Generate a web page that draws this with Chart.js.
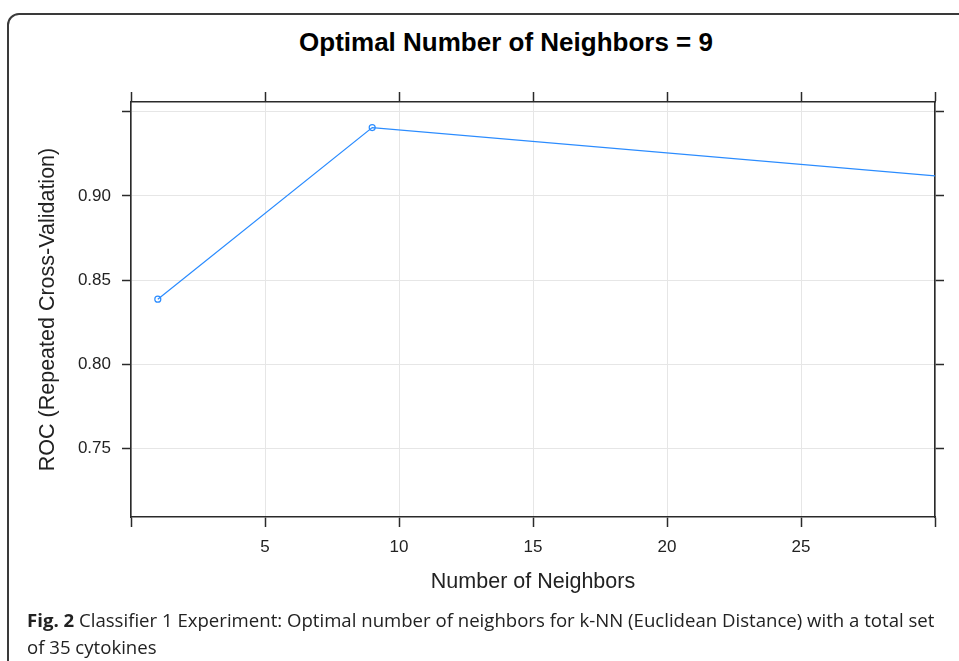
<!DOCTYPE html>
<html lang="en">
<head>
<meta charset="UTF-8">
<title>Optimal Number of Neighbors</title>
<script src="https://cdn.jsdelivr.net/npm/chart.js"></script>
<style>
    html, body { margin: 0; padding: 0; background: #fff; }
    body { width: 959px; height: 661px; position: relative; overflow: hidden; }
    .frame {
        position: absolute; left: 7px; top: 13px; width: 1000px; height: 700px;
        border: 2px solid #3a3a3a; border-radius: 12px;
    }
    .title {
        position: absolute; left: 0; width: 1012px; top: 27px; text-align: center;
        font: bold 26px "Liberation Sans", Arial, sans-serif; line-height: 30px; color: #000;
    }
    #wrap { position: absolute; left: 0; top: 0; width: 959px; height: 661px; }
    .caption {
        position: absolute; left: 27px; top: 606px; width: 930px;
        font: 18.6px "Open Sans", sans-serif; line-height: 27px; color: #222;
        white-space: nowrap;
    }
    .caption b { font-weight: bold; }
</style>
</head>
<body>
<div class="frame"></div>
<div class="title">Optimal Number of Neighbors = 9</div>
<div id="wrap"><canvas id="knnChart"></canvas></div>
<div class="caption"><b>Fig. 2</b> Classifier 1 Experiment: Optimal number of neighbors for k-NN (Euclidean Distance) with a total set<br>of 35 cytokines</div>

<script>
    // k values tried and the resampled ROC for each (last one lies past the right edge)
    const neighbors = [1, 9, 35];
    const rocValues = [0.8387, 0.9405, 0.905];

    const xTicks = [0, 5, 10, 15, 20, 25, 30];
    const yTicks = [0.75, 0.80, 0.85, 0.90, 0.95];
    const xLabels = ['', '5', '10', '15', '20', '25', ''];
    const yLabels = ['0.75', '0.80', '0.85', '0.90', ''];

    const blue = '#2b8cff';
    const axisColor = '#2a2a2a';
    const gridColor = '#e6e6e6';
    const tickFont = { family: '"Liberation Sans", Arial, sans-serif', size: 17 };
    const titleFont = { family: '"Liberation Sans", Arial, sans-serif', size: 21.5 };

    const setX = scale => { scale.ticks = xTicks.map(v => ({ value: v })); };
    const setY = scale => { scale.ticks = yTicks.map(v => ({ value: v })); };

    const ctx = document.getElementById('knnChart').getContext('2d');
    new Chart(ctx, {
        type: 'scatter',
        data: {
            datasets: [{
                data: neighbors.map((k, i) => ({ x: k, y: rocValues[i] })),
                showLine: true,
                borderColor: blue,
                borderWidth: 1.2,
                pointStyle: 'circle',
                pointRadius: 3,
                pointBorderWidth: 1.2,
                pointBorderColor: blue,
                pointBackgroundColor: 'rgba(0,0,0,0)'
            }]
        },
        options: {
            responsive: true,
            maintainAspectRatio: false,
            animation: false,
            layout: { padding: 0 },
            plugins: { legend: { display: false }, tooltip: { enabled: false } },
            scales: {
                x: {
                    type: 'linear', position: 'bottom', min: 0, max: 30,
                    afterBuildTicks: setX,
                    afterFit: s => { s.height = 144; },
                    ticks: {
                        font: tickFont, color: '#222', padding: 10, maxRotation: 0,
                        callback: (v, i) => xLabels[i]
                    },
                    grid: { color: gridColor, tickColor: axisColor, tickLength: 10, tickWidth: 1.5 },
                    border: { color: axisColor, width: 1.6 },
                    title: {
                        display: true, text: 'Number of Neighbors', font: titleFont, color: '#222',
                        padding: { top: 0, bottom: 66 }
                    }
                },
                x2: {
                    type: 'linear', position: 'top', min: 0, max: 30,
                    afterBuildTicks: setX,
                    afterFit: s => { s.height = 102; },
                    ticks: { callback: () => '' },
                    grid: { drawOnChartArea: false, tickColor: axisColor, tickLength: 10, tickWidth: 1.5 },
                    border: { color: axisColor, width: 1.6 }
                },
                y: {
                    type: 'linear', position: 'left', min: 0.7095, max: 0.9557,
                    afterBuildTicks: setY,
                    afterFit: s => { s.width = 131; },
                    ticks: {
                        font: tickFont, color: '#222', padding: 11,
                        callback: (v, i) => yLabels[i]
                    },
                    grid: { color: gridColor, tickColor: axisColor, tickLength: 9, tickWidth: 1.5 },
                    border: { color: axisColor, width: 1.6 },
                    title: {
                        display: true, text: 'ROC (Repeated Cross-Validation)', font: titleFont, color: '#222',
                        padding: { top: 35, bottom: 0 }
                    }
                },
                y2: {
                    type: 'linear', position: 'right', min: 0.7095, max: 0.9557,
                    afterBuildTicks: setY,
                    afterFit: s => { s.width = 24; },
                    ticks: { callback: () => '' },
                    grid: { drawOnChartArea: false, tickColor: axisColor, tickLength: 9, tickWidth: 1.5 },
                    border: { color: axisColor, width: 1.6 }
                }
            }
        }
    });
</script>
</body>
</html>
